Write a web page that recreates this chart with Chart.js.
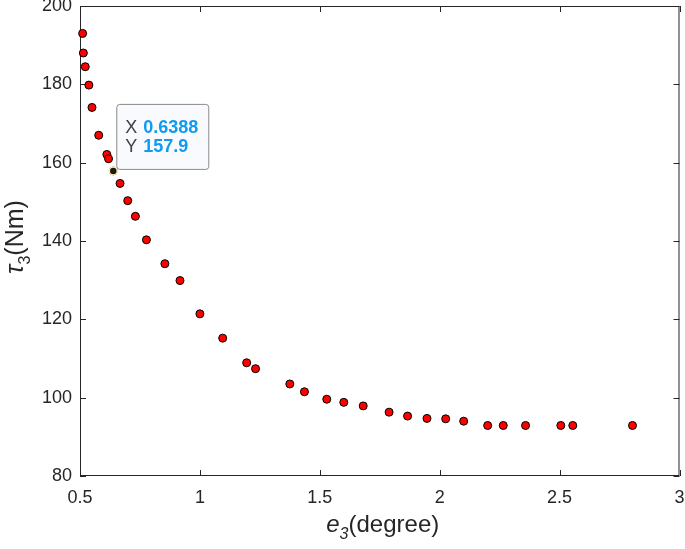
<!DOCTYPE html>
<html>
<head>
<meta charset="utf-8">
<script src="https://cdn.jsdelivr.net/npm/chart.js@4.4.0/dist/chart.umd.min.js"></script>
<style>
    body { margin: 0; background: #fff; }
    #wrap { width: 685px; height: 549px; }
</style>
</head>
<body>
<div id="wrap"><canvas id="tau-chart" width="685" height="549"></canvas></div>
<script>
// Data: e3 (degree) vs tau3 (Nm)
const e3Values = [
    0.511, 0.514, 0.522, 0.537, 0.550, 0.578, 0.612, 0.619, 0.6388, 0.667,
    0.699, 0.731, 0.777, 0.854, 0.917, 1.000, 1.095, 1.195, 1.232, 1.375,
    1.436, 1.529, 1.600, 1.681, 1.789, 1.866, 1.947, 2.025, 2.100, 2.200,
    2.265, 2.358, 2.505, 2.555, 2.804
];
const tau3Values = [
    193.0, 188.0, 184.5, 179.8, 174.1, 167.0, 162.1, 161.0, 157.9, 154.7,
    150.3, 146.3, 140.3, 134.2, 129.9, 121.4, 115.2, 108.9, 107.4, 103.5,
    101.5, 99.6, 98.8, 97.9, 96.3, 95.3, 94.7, 94.6, 94.0, 92.9,
    92.9, 92.9, 92.9, 92.9, 92.9
];

// Data tip
const tipX = 0.6388;
const tipY = 157.9;

// Axis ticks
const xTicks = [0.5, 1, 1.5, 2, 2.5, 3];
const yTicks = [80, 100, 120, 140, 160, 180, 200];

const axisColor = '#262626';
const fontFamily = '"Liberation Sans", Arial, Helvetica, sans-serif';

// Box, inward ticks and axis titles (MATLAB look)
const axesFrame = {
    id: 'axesFrame',
    beforeDatasetsDraw(chart) {
        const { ctx, chartArea: a, scales } = chart;
        ctx.save();
        ctx.strokeStyle = axisColor;
        ctx.lineWidth = 1;
        ctx.strokeRect(a.left + 0.5, a.top + 0.5, a.right - a.left - 1, a.bottom - a.top - 1);
        ctx.beginPath();
        xTicks.forEach(v => {
            const px = Math.round(scales.x.getPixelForValue(v)) + 0.5;
            ctx.moveTo(px, a.bottom); ctx.lineTo(px, a.bottom - 6);
            ctx.moveTo(px, a.top); ctx.lineTo(px, a.top + 6);
        });
        yTicks.forEach(v => {
            const py = Math.round(scales.y.getPixelForValue(v)) + 0.5;
            ctx.moveTo(a.left, py); ctx.lineTo(a.left + 6, py);
            ctx.moveTo(a.right, py); ctx.lineTo(a.right - 6, py);
        });
        ctx.stroke();
        ctx.restore();
    },
    afterDraw(chart) {
        const { ctx, chartArea: a } = chart;
        ctx.save();
        ctx.fillStyle = axisColor;
        ctx.textBaseline = 'alphabetic';

        // x title: e_3(degree)
        const parts = [
            { t: 'e', f: 'italic 24px ' + fontFamily, dy: 0 },
            { t: '3', f: 'italic 16px ' + fontFamily, dy: 7 },
            { t: '(degree)', f: '24px ' + fontFamily, dy: 0 }
        ];
        drawParts(ctx, parts, (a.left + a.right) / 2 + 3, 532);

        // y title: tau_3(Nm), rotated
        ctx.translate(23, (a.top + a.bottom) / 2 - 4);
        ctx.rotate(-Math.PI / 2);
        const yparts = [
            { t: 'τ', f: 'italic 25px ' + fontFamily, dy: 0 },
            { t: '3', f: '16px ' + fontFamily, dy: 7 },
            { t: '(Nm)', f: '25px ' + fontFamily, dy: 0 }
        ];
        drawParts(ctx, yparts, 0, 0);
        ctx.restore();

        // data tip box
        const px = chart.scales.x.getPixelForValue(tipX);
        const py = chart.scales.y.getPixelForValue(tipY);
        const bx = px + 3, by = py - 67, bw = 92, bh = 65;
        ctx.save();
        ctx.beginPath();
        ctx.roundRect(bx + 0.5, by + 0.5, bw, bh, 3);
        ctx.fillStyle = 'rgba(249, 250, 253, 0.95)';
        ctx.fill();
        ctx.strokeStyle = '#8a8a8a';
        ctx.lineWidth = 1;
        ctx.stroke();
        ctx.textBaseline = 'alphabetic';
        ctx.font = '18px ' + fontFamily;
        ctx.fillStyle = '#404040';
        ctx.fillText('X', bx + 9, by + 29);
        ctx.fillText('Y', bx + 9, by + 48);
        ctx.font = 'bold 18px ' + fontFamily;
        ctx.fillStyle = '#0f9bf2';
        ctx.fillText(String(tipX), bx + 27, by + 29);
        ctx.fillText(String(tipY), bx + 27, by + 48);
        ctx.restore();
    }
};

function drawParts(ctx, parts, cx, baseY) {
    let total = 0;
    parts.forEach(p => { ctx.font = p.f; p.w = ctx.measureText(p.t).width; total += p.w; });
    let x = cx - total / 2;
    ctx.textAlign = 'left';
    parts.forEach(p => {
        ctx.font = p.f;
        ctx.fillText(p.t, x, baseY + p.dy);
        x += p.w;
    });
}

const points = e3Values.map((x, i) => ({ x: x, y: tau3Values[i] }));

new Chart(document.getElementById('tau-chart').getContext('2d'), {
    type: 'scatter',
    data: {
        datasets: [{
            label: 'tip',
            data: [{ x: tipX, y: tipY }],
            backgroundColor: '#1a1a1a',
            borderColor: '#fff3b0',
            borderWidth: 1.5,
            pointRadius: 4,
            clip: false
        }, {
            label: 'tau3',
            data: points,
            backgroundColor: '#ff0000',
            borderColor: '#000000',
            borderWidth: 1,
            pointRadius: 4,
            clip: false
        }]
    },
    plugins: [axesFrame],
    options: {
        responsive: false,
        animation: false,
        devicePixelRatio: 1,
        layout: { padding: { top: 6, right: 3, left: 0, bottom: 0 } },
        plugins: {
            legend: { display: false },
            tooltip: { enabled: false }
        },
        scales: {
            x: {
                type: 'linear',
                min: 0.5,
                max: 3,
                afterBuildTicks: (scale) => { scale.ticks = xTicks.map(v => ({ value: v })); },
                ticks: {
                    callback: (value) => String(value),
                    font: { family: fontFamily, size: 18 },
                    color: axisColor,
                    padding: 11,
                    maxRotation: 0
                },
                grid: { display: false, drawTicks: false },
                border: { display: false },
                afterFit: (scale) => { scale.height = 73; scale.paddingLeft = 0; scale.paddingRight = 0; }
            },
            y: {
                type: 'linear',
                min: 80,
                max: 200,
                afterBuildTicks: (scale) => { scale.ticks = yTicks.map(v => ({ value: v })); },
                ticks: {
                    callback: (value) => String(value),
                    font: { family: fontFamily, size: 18 },
                    color: axisColor,
                    padding: 8
                },
                grid: { display: false, drawTicks: false },
                border: { display: false },
                afterFit: (scale) => { scale.width = 80; scale.paddingTop = 0; scale.paddingBottom = 0; }
            }
        }
    }
});
</script>
</body>
</html>
